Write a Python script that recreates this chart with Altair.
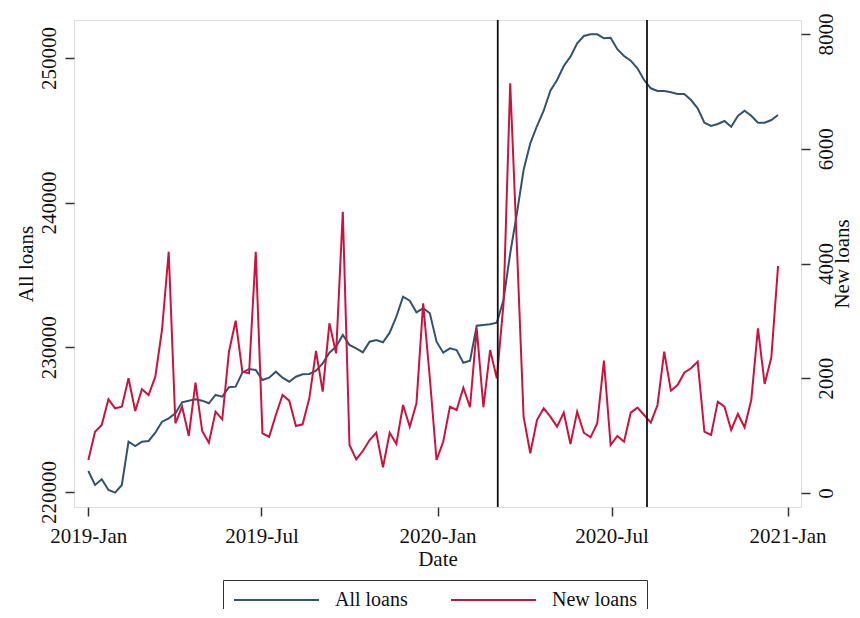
import altair as alt
import pandas as pd

# ---- data (weekly) ----
start_date = "2019-01-01"
series_names = ["All loans", "New loans"]

all_loans = [221451, 220484, 220876, 220138, 219955, 220484, 223476, 223179, 223476, 223525,
             224098, 224858, 225093, 225439, 226199, 226310, 226406, 226310, 226130, 226704,
             226586, 227236, 227280, 228247, 228501, 228430, 227740, 227899, 228314, 227899,
             227623, 227968, 228134, 228155, 228384, 228894, 229627, 230042, 230850, 230159,
             229931, 229654, 230387, 230505, 230345, 231010, 232115, 233497, 233221, 232419,
             232695, 232350, 230387, 229627, 229931, 229813, 228936, 229074, 231493, 231541,
             231589, 231700, 233269, 236496, 239260, 242253, 244098, 245293, 246351, 247733,
             248472, 249440, 250083, 251008, 251514, 251631, 251631, 251354, 251390, 250600,
             250131, 249807, 249281, 248472, 247899, 247712, 247712, 247622, 247505, 247505,
             247090, 246516, 245521, 245293, 245431, 245639, 245245, 245985, 246351, 246005,
             245521, 245521, 245708, 246054]

new_loans = [575, 1069, 1185, 1633, 1476, 1505, 1999, 1429, 1808, 1708,
             2028, 2841, 4206, 1215, 1505, 994, 1923, 1081, 877, 1418,
             1284, 2463, 3003, 2115, 2086, 4206, 1040, 981, 1360, 1708,
             1609, 1168, 1197, 1650, 2475, 1766, 2957, 2434, 4903, 837,
             587, 732, 924, 1051, 448, 1051, 854, 1534, 1156, 1563,
             3306, 2000, 575, 894, 1505, 1447, 1836, 1494, 2870, 1494,
             2492, 1999, 3300, 7141, 4300, 1330, 692, 1272, 1476, 1330,
             1156, 1400, 854, 1418, 1051, 970, 1215, 2306, 837, 994,
             894, 1400, 1487, 1360, 1226, 1534, 2463, 1784, 1882, 2097,
             2173, 2289, 1069, 1011, 1592, 1505, 1098, 1377, 1145, 1621,
             2870, 1900, 2365, 3957]

event_dates = ["2020-03-04", "2020-08-07"]

x_tick_months = [(2019, 1), (2019, 7), (2020, 1), (2020, 7), (2021, 1)]
left_ticks = [220000, 230000, 240000, 250000]
right_ticks = [0, 2000, 4000, 6000, 8000]

# ---- tables ----
dates = pd.date_range(start_date, periods=len(all_loans), freq="7D").strftime("%Y-%m-%d")
df_all = pd.DataFrame({"date": dates, "value": all_loans, "series": series_names[0]})
df_new = pd.DataFrame({"date": dates, "value": new_loans, "series": series_names[1]})
df_ev = pd.DataFrame({"date": event_dates})

# ---- style ----
BLUE = "#34526e"
RED = "#c8143f"
FONT = "Liberation Serif"
TXT = "#111111"
FS = 21

x_scale = alt.Scale(
    type="utc",
    domain=[alt.DateTime(year=2018, month=12, date=17, utc=True),
            alt.DateTime(year=2021, month=1, date=15, utc=True)],
    nice=False,
)
x_axis = alt.Axis(
    title="Date", format="%Y-%b",
    values=[alt.DateTime(year=y, month=m, date=1, utc=True) for y, m in x_tick_months],
    grid=False, domain=False, tickSize=9, tickWidth=1.5, tickColor="#333",
    labelFontSize=FS, labelFont=FONT, labelColor=TXT, labelPadding=26,
    labelBaseline="alphabetic", labelFlush=False, labelOverlap=False,
    titleFontSize=FS, titleFont=FONT, titleColor=TXT, titleFontWeight="normal",
    titleX=363.5, titleY=58, titleBaseline="alphabetic", titleAlign="center",
)

color = alt.Color(
    "series:N",
    scale=alt.Scale(domain=series_names, range=[BLUE, RED]),
    legend=alt.Legend(
        title=None, orient="none", legendX=149, legendY=560, direction="horizontal",
        symbolType="stroke", symbolSize=7225, symbolStrokeWidth=2,
        labelFontSize=20, labelFont=FONT, labelColor=TXT, labelOffset=15,
        columnPadding=42, padding=10, strokeColor="#333", fillColor="white",
        clipHeight=20,
    ),
)

blue = alt.Chart(df_all).mark_line(strokeWidth=2).encode(
    x=alt.X("date:T", scale=x_scale, axis=x_axis),
    y=alt.Y(
        "value:Q",
        scale=alt.Scale(domain=[218963, 252619], nice=False, zero=False),
        axis=alt.Axis(
            orient="left", title="All loans", values=left_ticks, format="d",
            grid=False, domain=False, tickSize=9, tickWidth=1.5, tickColor="#333",
            labelAngle=270, labelAlign="center", labelBaseline="alphabetic", labelPadding=10,
            labelFontSize=FS, labelFont=FONT, labelColor=TXT, labelOverlap=False,
            titleAngle=270, titleAlign="center", titleBaseline="alphabetic",
            titleX=-42, titleY=243.5,
            titleFontSize=FS, titleFont=FONT, titleColor=TXT, titleFontWeight="normal",
        ),
    ),
    color=color,
)

red = alt.Chart(df_new).mark_line(strokeWidth=2).encode(
    x=alt.X("date:T", scale=x_scale),
    y=alt.Y(
        "value:Q",
        scale=alt.Scale(domain=[-244, 8244], nice=False, zero=False),
        axis=alt.Axis(
            orient="right", title="New loans", values=right_ticks, format="d",
            grid=False, domain=False, tickSize=9, tickWidth=1.5, tickColor="#333",
            labelAngle=270, labelAlign="center", labelBaseline="alphabetic", labelPadding=22,
            labelFontSize=FS, labelFont=FONT, labelColor=TXT, labelOverlap=False,
            titleAngle=270, titleAlign="center", titleBaseline="alphabetic",
            titleX=47, titleY=243.5,
            titleFontSize=FS, titleFont=FONT, titleColor=TXT, titleFontWeight="normal",
        ),
    ),
    color=color,
)

rules = alt.Chart(df_ev).mark_rule(color="#111111", strokeWidth=1.8).encode(
    x=alt.X("date:T", scale=x_scale),
)

chart = (
    alt.layer(blue, red, rules)
    .resolve_scale(y="independent")
    .properties(
        width=727, height=487,
        padding={"left": 66, "top": 12, "right": 51, "bottom": 102},
        autosize=alt.AutoSizeParams(type="none"),
        background="white",
    )
    .configure_view(stroke="#333333", strokeWidth=1.6)
    .configure(font=FONT)
)

chart.save("out.html", embed_options={"renderer": "svg", "actions": False})
